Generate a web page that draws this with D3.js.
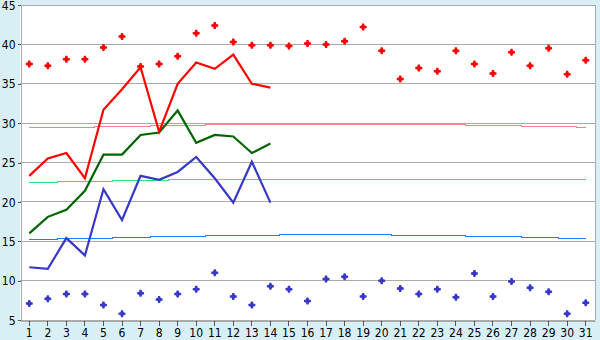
<!DOCTYPE html>
<html>
<head>
<meta charset="utf-8">
<script src="https://cdn.jsdelivr.net/npm/d3@7"></script>
<style>
  html, body { margin: 0; padding: 0; background: #d9eff6; }
  svg { display: block; }
  .tick text { font-family: "DejaVu Sans Condensed", "DejaVu Sans", sans-serif; font-stretch: condensed; font-size: 12px; fill: #000; }
</style>
</head>
<body>
<svg id="chart" width="600" height="340"></svg>
<script>
// ---- data ----
const days = [1,2,3,4,5,6,7,8,9,10,11,12,13,14,15,16,17,18,19,20,21,22,23,24,25,26,27,28,29,30,31];
const yTicks = [5,10,15,20,25,30,35,40,45];

// record maxima / minima (markers)
const recordMax = [37.5,37.3,38.1,38.1,39.6,41.0,37.2,37.5,38.5,41.4,42.4,40.3,39.9,39.9,39.8,40.1,40.0,40.4,42.2,39.2,35.6,37.0,36.6,39.2,37.5,36.3,39.0,37.3,39.5,36.2,38.0];
const recordMin = [7.1,7.7,8.3,8.3,6.9,5.8,8.4,7.6,8.3,8.9,11.0,8.0,6.9,9.3,8.9,7.4,10.2,10.5,8.0,10.0,9.0,8.3,8.9,7.9,10.9,8.0,9.9,9.1,8.6,5.8,7.2];

// current values (first 14 days)
const maxTemp  = [23.3,25.5,26.2,23.0,31.7,34.3,37.1,28.9,35.0,37.7,36.9,38.7,35.0,34.5];
const meanTemp = [16.0,18.1,19.0,21.4,26.0,26.0,28.5,28.8,31.6,27.5,28.5,28.3,26.2,27.4];
const minTemp  = [11.7,11.5,15.4,13.2,21.6,17.7,23.3,22.8,23.8,25.7,23.0,19.9,25.1,19.9];

// normals
const normalMax  = [29.47,29.47,29.47,29.47,29.6,29.6,29.6,29.72,29.72,29.72,29.89,29.89,29.89,29.89,29.89,29.89,29.89,29.89,29.89,29.89,29.89,29.89,29.89,29.89,29.72,29.72,29.72,29.6,29.6,29.6,29.47];
const normalMean = [22.49,22.49,22.61,22.61,22.61,22.74,22.74,22.74,22.87,22.87,22.87,22.87,22.87,22.87,22.87,22.87,22.87,22.87,22.87,22.87,22.87,22.87,22.87,22.87,22.87,22.87,22.87,22.87,22.87,22.87,22.87];
const normalMin  = [15.25,15.25,15.37,15.37,15.37,15.5,15.5,15.63,15.63,15.63,15.75,15.75,15.75,15.75,15.88,15.88,15.88,15.88,15.88,15.88,15.75,15.75,15.75,15.75,15.63,15.63,15.63,15.5,15.5,15.37,15.37];

// ---- layout ----
const svg = d3.select("#chart");
const L = 20, R = 595, T = 5, B = 320;

const x = d3.scaleBand().domain(days).range([L, R]).padding(0);
const y = d3.scaleLinear().domain([5, 45]).range([B, T]);
const cx = d => x(d) + x.bandwidth() / 2;

// plot background
svg.append("rect").attr("x", L).attr("y", T).attr("width", R - L).attr("height", B - T).attr("fill", "#ffffff");

// gridlines
svg.append("g").selectAll("line").data(yTicks).join("line")
  .attr("x1", L).attr("x2", R)
  .attr("y1", d => Math.floor(y(d)) + 0.5).attr("y2", d => Math.floor(y(d)) + 0.5)
  .attr("stroke", "#aaaaaa").attr("stroke-width", 1).attr("shape-rendering", "crispEdges");
// right border
svg.append("line").attr("x1", R + 0.5).attr("x2", R + 0.5).attr("y1", T).attr("y2", B)
  .attr("stroke", "#aaaaaa").attr("shape-rendering", "crispEdges");

// axes
const yAxis = d3.axisLeft(y).tickValues(yTicks).tickSize(3).tickSizeOuter(0).tickPadding(2);
const gy = svg.append("g").attr("transform", `translate(${L + 0.5},0)`).call(yAxis);
const xAxis = d3.axisBottom(x).tickSize(5).tickSizeOuter(0).tickPadding(3);
const gx = svg.append("g").attr("transform", `translate(0,${B + 0.5})`).call(xAxis);
[gy, gx].forEach(g => {
  g.select(".domain").attr("stroke", "#aaaaaa").attr("shape-rendering", "crispEdges");
  g.selectAll(".tick line").attr("stroke", "#555555").attr("shape-rendering", "crispEdges");
});
gy.selectAll(".tick text").attr("dy", "0.35em");

// normal lines (stepped, 1px crisp)
const snap = v => Math.round(y(v)) + 0.5;
const stepLine = d3.line().x((d, i) => Math.round(cx(days[i]))).y(d => snap(d)).curve(d3.curveStep);
[[normalMax, "#ff8080"], [normalMean, "#2ee67a"], [normalMin, "#1a7fff"]].forEach(([arr, col]) => {
  svg.append("path").datum(arr).attr("d", stepLine)
    .attr("fill", "none").attr("stroke", col).attr("stroke-width", 1)
    .attr("shape-rendering", "crispEdges");
});

// current lines
const line = d3.line().x((d, i) => cx(days[i])).y(d => y(d));
[[minTemp, "#3737c8"], [meanTemp, "#006400"], [maxTemp, "#ff0000"]].forEach(([arr, col]) => {
  svg.append("path").datum(arr).attr("d", line)
    .attr("fill", "none").attr("stroke", col).attr("stroke-width", 2.2).attr("stroke-linejoin", "miter");
});

// markers
const marker = "M-1,-3.5L1,-3.5L1.5,-1.5L3.5,-1L3.5,1L1.5,1.5L1,3.5L-1,3.5L-1.5,1.5L-3.5,1L-3.5,-1L-1.5,-1.5Z";
[[recordMax, "#ff0000"], [recordMin, "#3737c8"]].forEach(([arr, col]) => {
  svg.append("g").selectAll("path").data(arr).join("path")
    .attr("d", marker)
    .attr("transform", (d, i) => `translate(${cx(days[i])},${y(d)})`)
    .attr("fill", col);
});
</script>
</body>
</html>
